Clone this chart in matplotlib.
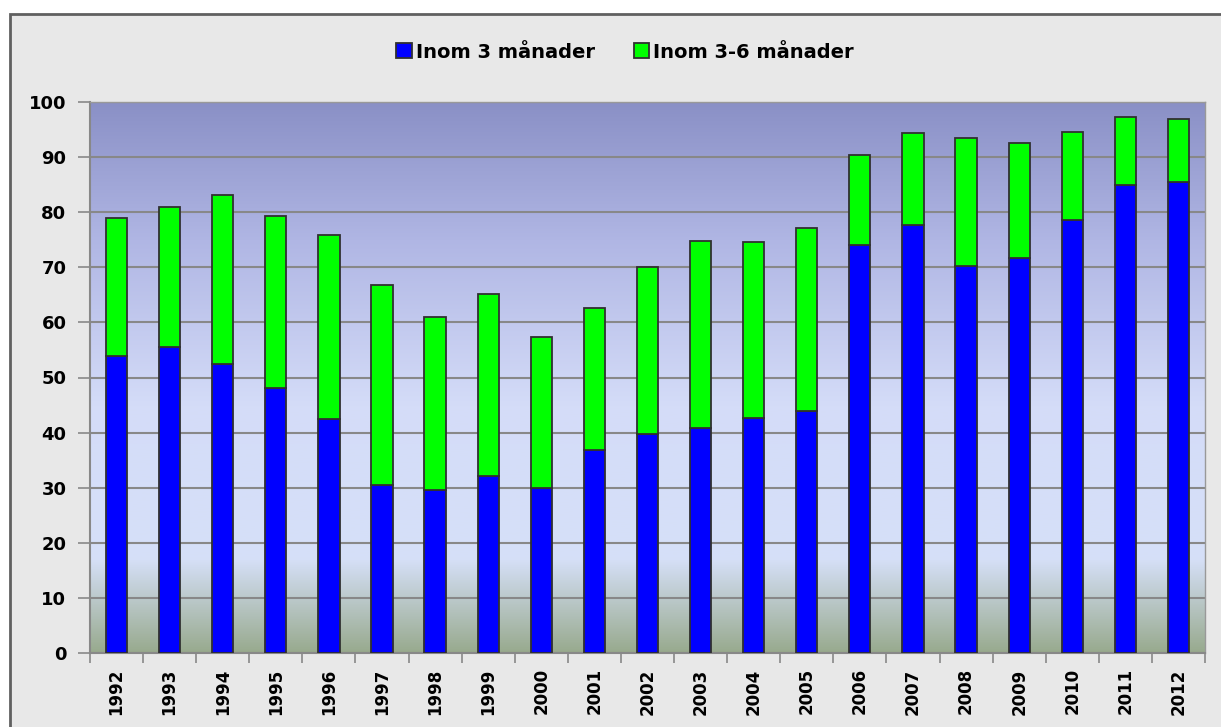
import numpy as np
import matplotlib
matplotlib.use("Agg")
import matplotlib.pyplot as plt
from matplotlib.colors import LinearSegmentedColormap
from matplotlib.patches import Rectangle

years = [str(y) for y in range(1992, 2013)]
inom_3 = [53.9, 55.5, 52.4, 48.1, 42.4, 30.4, 29.6, 32.2, 30.0, 36.8, 39.8,
          40.9, 42.6, 43.9, 74.1, 77.6, 70.2, 71.6, 78.5, 85.0, 85.5]
inom_3_6 = [25.0, 25.4, 30.8, 31.2, 33.4, 36.3, 31.3, 33.0, 27.3, 25.9, 30.2,
            33.9, 32.0, 33.2, 16.3, 16.7, 23.2, 21.0, 16.0, 12.2, 11.4]

fig = plt.figure(figsize=(12.21, 7.27), dpi=100)
fig.patch.set_facecolor("white")
# outer chart frame, behind the axes
fig.patches.append(Rectangle((10 / 1221, -0.01), 1.0, (727 - 14) / 727 + 0.01,
                             transform=fig.transFigure, facecolor="#e8e8e8",
                             edgecolor="#606060", linewidth=2, zorder=-5))

ax = fig.add_axes([90 / 1221, 74 / 727, 1115 / 1221, 551 / 727])

# gradient background
cmap = LinearSegmentedColormap.from_list(
    "bg", [(0.0, "#98aa8e"), (0.17, "#d6e0f8"), (0.45, "#d4dcf8"),
           (0.75, "#b0b6e4"), (1.0, "#8a90c6")])
grad = np.linspace(0, 1, 256).reshape(-1, 1)
ax.imshow(grad, aspect="auto", cmap=cmap, origin="lower",
          extent=[0, 1, 0, 1], transform=ax.transAxes, zorder=0)

x = np.arange(len(years))
ax.bar(x, inom_3, width=0.4, color="#0000ff", edgecolor="#303030",
       linewidth=1.3, label="Inom 3 månader", zorder=3)
ax.bar(x, inom_3_6, width=0.4, bottom=inom_3, color="#00ff00",
       edgecolor="#303030", linewidth=1.3, label="Inom 3-6 månader", zorder=3)

ax.set_xlim(-0.5, len(years) - 0.5)
ax.set_ylim(0, 100)
ax.set_yticks(range(0, 101, 10))
ax.yaxis.grid(True, color="#888888", linewidth=1.5, zorder=1)
ax.set_axisbelow(True)

ax.set_xticks(x)
ax.set_xticklabels(years, rotation=90, fontsize=12, fontweight="bold",
                   family="DejaVu Sans")
ax.set_xticks(np.arange(-0.5, len(years)), minor=True)
ax.tick_params(axis="x", which="major", length=0, pad=11)
ax.tick_params(axis="x", which="minor", length=7, color="#888888", width=1.2)
ax.tick_params(axis="y", length=9, color="#888888", width=1.2, labelsize=13,
               pad=8)
for lbl in ax.get_yticklabels():
    lbl.set_fontweight("bold")
    lbl.set_family("DejaVu Sans")

for side in ["left", "bottom"]:
    ax.spines[side].set_color("#888888")
    ax.spines[side].set_linewidth(1.5)
for side in ["top", "right"]:
    ax.spines[side].set_color("#999999")
    ax.spines[side].set_linewidth(1.0)

fig.legend(loc="center", bbox_to_anchor=(0.512, 1 - 52 / 727), ncol=2,
           frameon=False, prop={"family": "DejaVu Sans", "weight": "bold",
                                "size": 14},
           handlelength=0.8, handleheight=0.8, handletextpad=0.2,
           columnspacing=2.0)

fig.savefig("out.png", dpi=100)
